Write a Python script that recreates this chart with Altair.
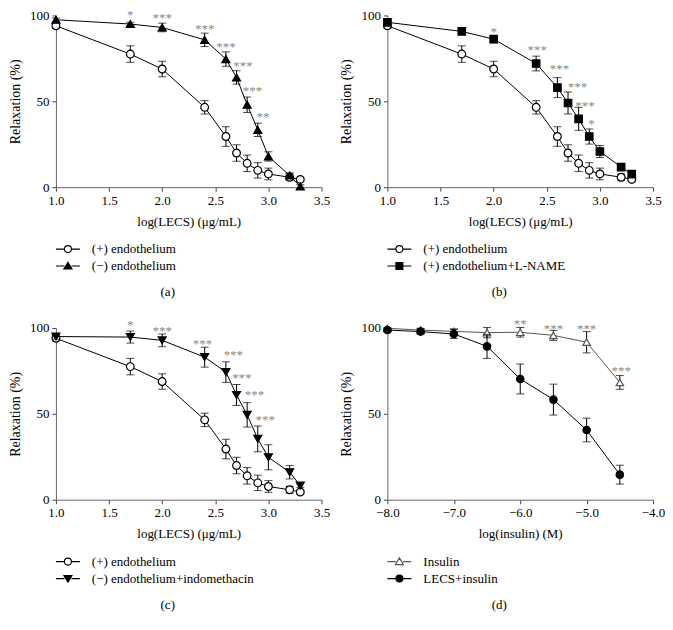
import altair as alt
import pandas as pd

# ---------------- data ----------------
LECS_X = [1.0, 1.7, 2.0, 2.4, 2.6, 2.7, 2.8, 2.9, 3.0, 3.2, 3.3]
ENDO_Y = [94, 77.5, 68.8, 46.5, 29.5, 19.9, 13.9, 9.8, 7.7, 5.8, 4.5]
ENDO_E = [1.5, 4.8, 4.5, 3.9, 5.7, 4.8, 4.8, 4.5, 3.4, 2.0, 1.0]
NOENDO_Y = [97.5, 95, 93, 85.8, 74.6, 63.9, 48, 33.4, 17.9, 6.8, 0.4]
NOENDO_E = [1.0, 1.0, 2.5, 3.9, 4.2, 3.9, 4.5, 3.9, 2.7, 1.6, 1.0]
LNAME_Y = [96, 90.7, 86.2, 72, 58, 49, 39.8, 29.5, 20.8, 11.7, 7.6]
LNAME_E = [1.0, 1.0, 2.1, 4.3, 5.8, 6.4, 6.7, 4.4, 3.5, 1.5, 1.0]
INDO_Y = [95, 94.7, 92.8, 83, 74.3, 61, 49.4, 35.4, 24.7, 16, 8.2]
INDO_E = [1.5, 3.5, 3.7, 5.8, 6.0, 6.1, 7.1, 7.5, 7.3, 3.9, 1.0]

INS_X = [-8.0, -7.5, -7.0, -6.5, -6.0, -5.5, -5.0, -4.5]
INS_Y = [99.8, 98.8, 98, 97.3, 97.5, 95.7, 91.7, 68.3]
INS_E = [0.5, 1.0, 1.5, 3.0, 2.8, 2.9, 6.2, 4.0]
LECSINS_Y = [98.8, 97.9, 96.5, 89.3, 70.3, 58.3, 40.6, 14.6]
LECSINS_E = [0.5, 1.5, 2.6, 7.0, 8.7, 9.0, 6.9, 5.5]

STARS_A_X = [1.7, 2.0, 2.4, 2.6, 2.76, 2.85, 2.95]
STARS_A_Y = [102, 100, 93.6, 83.5, 72.5, 57.5, 42.5]
STARS_A_T = ["*", "***", "***", "***", "***", "***", "**"]
STARS_B_X = [2.0, 2.41, 2.62, 2.79, 2.86, 2.92]
STARS_B_Y = [92, 81.5, 70.3, 60.2, 49, 38.3]
STARS_B_T = ["*", "***", "***", "***", "***", "*"]
STARS_C_X = [1.7, 2.0, 2.38, 2.67, 2.75, 2.87, 2.97]
STARS_C_Y = [103.5, 100, 92.4, 86, 72.4, 62.6, 48]
STARS_C_T = ["*", "***", "***", "***", "***", "***", "***"]
STARS_D_X = [-6.0, -5.5, -5.0, -4.48]
STARS_D_Y = [104, 101.4, 101.4, 76.5]
STARS_D_T = ["**", "***", "***", "***"]

LECS_TICKS = [1.0, 1.5, 2.0, 2.5, 3.0, 3.5]
INS_TICKS = [-8.0, -7.0, -6.0, -5.0, -4.0]
Y_TICKS = [0, 50, 100]
PANEL_LABELS = ["(a)", "(b)", "(c)", "(d)"]

FONT = "Liberation Serif"
W, H = 266, 172

# custom legend glyphs: line stubs + marker
def stub(marker):
    return "M-2,0L-0.6,0M0.6,0L2,0" + marker

CIRCLE = "M0.58,0A0.58,0.58 0 1,1 -0.58,0A0.58,0.58 0 1,1 0.58,0Z"
TRI_UP = "M0,-0.62L0.68,0.5L-0.68,0.5Z"
TRI_DN = "M0,0.62L0.68,-0.5L-0.68,-0.5Z"
SQUARE = "M-0.58,-0.58L0.58,-0.58L0.58,0.58L-0.58,0.58Z"


def series_df(name, xs, ys, es):
    return pd.DataFrame({
        "x": xs, "y": ys,
        "lo": [y - e for y, e in zip(ys, es)],
        "hi": [y + e for y, e in zip(ys, es)],
        "series": name,
    })


def panel(series, xdomain, xticks, xtitle, sx, sy, st, label):
    layers = []
    xs_scale = alt.Scale(domain=xdomain, nice=False, zero=False, padding=0)
    ys_scale = alt.Scale(domain=[0, 100], nice=False, padding=0)
    xenc = alt.X("x:Q", scale=xs_scale,
                 axis=alt.Axis(values=xticks, format=".1f", title=xtitle,
                               labelFlush=False))
    yenc = alt.Y("y:Q", scale=ys_scale,
                 axis=alt.Axis(values=Y_TICKS, title="Relaxation (%)",
                               labelFlush=False))
    names, paths, fills, strokes = [], [], [], []
    all_df = []
    for name, xs, ys, es, shape, filled, color, size, lpath in series:
        df = series_df(name, xs, ys, es)
        all_df.append(df)
        names.append(name)
        paths.append(lpath)
        fills.append(color if filled else "white")
        strokes.append(color)
        base = alt.Chart(df)
        line = base.mark_line(color=color, strokeWidth=1).encode(x=xenc, y=yenc)
        rule = base.mark_rule(color="black", strokeWidth=1).encode(
            x="x:Q", y="lo:Q", y2="hi:Q")
        cap_lo = base.mark_tick(orient="horizontal", size=8, thickness=1,
                                color="black").encode(x="x:Q", y="lo:Q")
        cap_hi = base.mark_tick(orient="horizontal", size=8, thickness=1,
                                color="black").encode(x="x:Q", y="hi:Q")
        pts = base.mark_point(shape=shape, filled=True, size=size,
                              fill=color if filled else "white",
                              stroke=color, strokeWidth=1.2, opacity=1).encode(
            x="x:Q", y="y:Q")
        layers += [line, rule, cap_lo, cap_hi, pts]

    stars = alt.Chart(pd.DataFrame({"x": sx, "y": sy, "t": st})).mark_text(
        font=FONT, fontSize=13, fill="#888888", baseline="middle", dy=3
    ).encode(x="x:Q", y="y:Q", text="t:N")
    layers.append(stars)

    lab = alt.Chart(pd.DataFrame({"t": [label]})).mark_text(
        font=FONT, fontSize=13, color="black", baseline="middle", align="center"
    ).encode(text="t:N", x=alt.value(112), y=alt.value(H + 105))
    layers.append(lab)

    leg_df = pd.concat(all_df)
    legend = alt.Legend(
        title=None, orient="none", legendX=5, legendY=227,
        symbolSize=144, symbolStrokeWidth=1.1, labelOffset=17,
        rowPadding=3, labelFont=FONT, labelFontSize=13, labelColor="black",
        symbolOpacity=1, labelLimit=300,
    )
    leg = alt.Chart(leg_df).mark_point(opacity=0, filled=True).encode(
        x="x:Q", y="y:Q",
        shape=alt.Shape("series:N", scale=alt.Scale(domain=names, range=paths),
                        legend=legend),
        fill=alt.Fill("series:N", scale=alt.Scale(domain=names, range=fills),
                      legend=legend),
        stroke=alt.Stroke("series:N", scale=alt.Scale(domain=names, range=strokes),
                          legend=legend),
    )
    layers.append(leg)

    return alt.layer(*layers).properties(width=W, height=H)


ENDO = "(+) endothelium"
a = panel([
    (ENDO, LECS_X, ENDO_Y, ENDO_E, "circle", False, "black", 60, stub(CIRCLE)),
    ("(\u2212) endothelium", LECS_X, NOENDO_Y, NOENDO_E, "triangle-up", True,
     "black", 64, stub(TRI_UP)),
], [1.0, 3.5], LECS_TICKS, "log(LECS) (\u03bcg/mL)",
    STARS_A_X, STARS_A_Y, STARS_A_T, PANEL_LABELS[0])

b = panel([
    (ENDO, LECS_X, ENDO_Y, ENDO_E, "circle", False, "black", 60, stub(CIRCLE)),
    ("(+) endothelium+L-NAME", LECS_X, LNAME_Y, LNAME_E, "square", True,
     "black", 56, stub(SQUARE)),
], [1.0, 3.5], LECS_TICKS, "log(LECS) (\u03bcg/mL)",
    STARS_B_X, STARS_B_Y, STARS_B_T, PANEL_LABELS[1])

c = panel([
    (ENDO, LECS_X, ENDO_Y, ENDO_E, "circle", False, "black", 60, stub(CIRCLE)),
    ("(\u2212) endothelium+indomethacin", LECS_X, INDO_Y, INDO_E,
     "triangle-down", True, "black", 64, stub(TRI_DN)),
], [1.0, 3.5], LECS_TICKS, "log(LECS) (\u03bcg/mL)",
    STARS_C_X, STARS_C_Y, STARS_C_T, PANEL_LABELS[2])

d = panel([
    ("Insulin", INS_X, INS_Y, INS_E, "triangle-up", False, "#555555", 56,
     stub(TRI_UP)),
    ("LECS+insulin", INS_X, LECSINS_Y, LECSINS_E, "circle", True, "black", 55,
     stub(CIRCLE)),
], [-8.0, -4.0], INS_TICKS, "log(insulin) (M)",
    STARS_D_X, STARS_D_Y, STARS_D_T, PANEL_LABELS[3])

chart = alt.concat(
    a, b, c, d, columns=2, bounds="flush",
    spacing={"row": 141, "column": 66},
).resolve_scale(
    shape="independent", fill="independent", stroke="independent",
).resolve_legend(
    shape="independent", fill="independent", stroke="independent",
).properties(
    padding={"left": 0, "top": 0, "right": 0, "bottom": 0},
).configure_view(stroke=None).configure_axis(
    grid=False, domainColor="#666666", tickColor="#444444", tickSize=4,
    labelFont=FONT, labelFontSize=13, labelColor="black", labelPadding=3,
    titleFont=FONT, titleFontWeight="normal",
    titleColor="black", domainWidth=1,
).configure_axisX(titlePadding=8, titleFontSize=13).configure_axisY(
    titlePadding=7, titleFontSize=14)

chart.save("out.html", embed_options={"renderer": "svg", "actions": False})
